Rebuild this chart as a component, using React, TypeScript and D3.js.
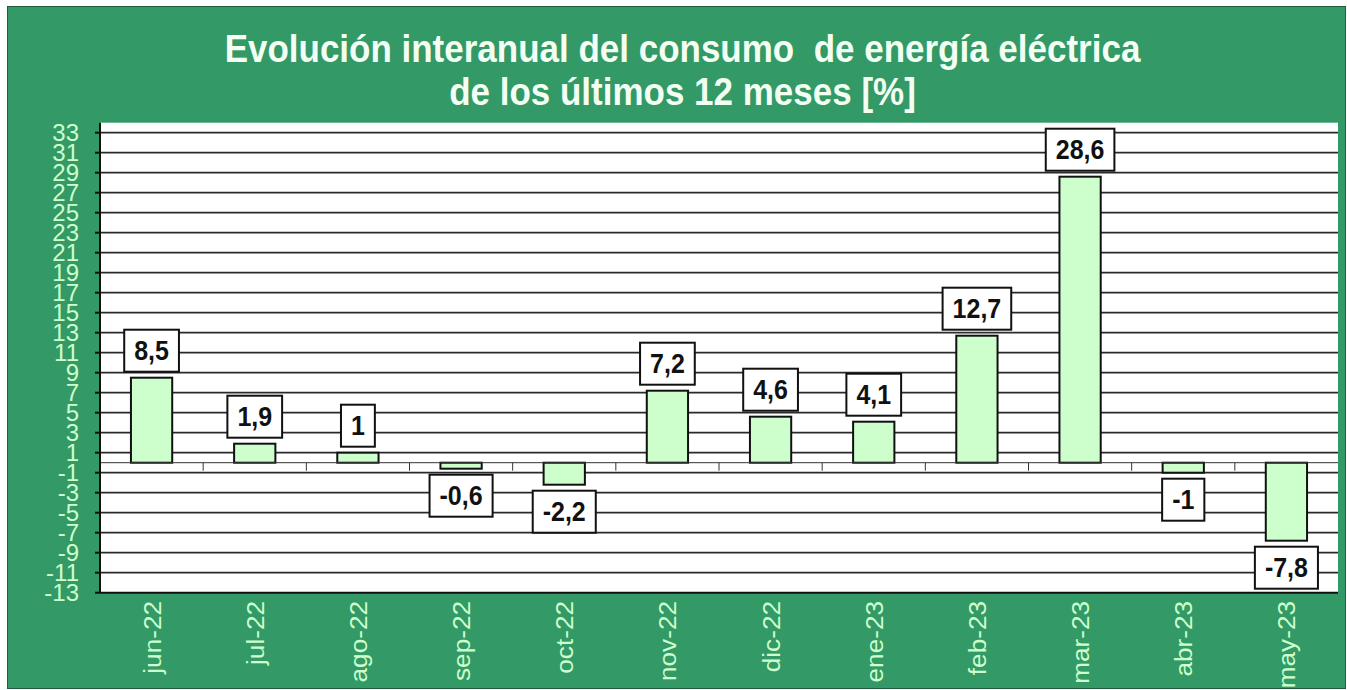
import { useEffect, useRef } from "react";
import * as d3 from "d3";

const categories = [
  "jun-22", "jul-22", "ago-22", "sep-22", "oct-22", "nov-22",
  "dic-22", "ene-23", "feb-23", "mar-23", "abr-23", "may-23",
];
const values = [8.5, 1.9, 1, -0.6, -2.2, 7.2, 4.6, 4.1, 12.7, 28.6, -1, -7.8];
const valueLabels = ["8,5", "1,9", "1", "-0,6", "-2,2", "7,2", "4,6", "4,1", "12,7", "28,6", "-1", "-7,8"];
const yTicks = [33, 31, 29, 27, 25, 23, 21, 19, 17, 15, 13, 11, 9, 7, 5, 3, 1, -1, -3, -5, -7, -9, -11, -13];
const titleLines = [
  "Evolución interanual del consumo  de energía eléctrica",
  "de los últimos 12 meses [%]",
];

const W = 1347,
  H = 690;
const FONT = "'Liberation Sans', Arial, sans-serif";
const GREEN = "#339966";
const LIGHT = "#ccffcc";
const STRETCH = 1.09;

export default function App() {
  const ref = useRef<SVGSVGElement>(null);

  useEffect(() => {
    const svg = d3.select(ref.current!);
    svg.selectAll("*").remove();

    const plot = { left: 100, right: 1338, top: 122.7, bottom: 592.7 };

    const x = d3
      .scaleBand()
      .domain(categories)
      .range([plot.left, plot.right])
      .padding(0);
    const y = d3.scaleLinear().domain([-13, 34]).range([plot.bottom, plot.top]);
    const barW = x.bandwidth() * 0.4;

    // background
    svg
      .append("rect")
      .attr("x", 7.5)
      .attr("y", 6.5)
      .attr("width", W - 9)
      .attr("height", H - 8)
      .attr("fill", GREEN)
      .attr("stroke", "#1d5c3c")
      .attr("stroke-width", 1);

    // title
    const title = svg.append("g");
    titleLines.forEach((t, i) => {
      title
        .append("text")
        .attr("transform", `translate(${W / 2 + 9},${[61.5, 105][i]}) scale(1,${STRETCH})`)
        .attr("text-anchor", "middle")
        .attr("font-family", FONT)
        .attr("font-weight", "bold")
        .attr("font-size", 35)
        .attr("fill", "#f2fff2")
        .style("white-space", "pre")
        .text(t);
    });

    // plot area
    svg
      .append("rect")
      .attr("x", plot.left)
      .attr("y", plot.top)
      .attr("width", plot.right - plot.left)
      .attr("height", plot.bottom - plot.top)
      .attr("fill", "#ffffff");

    // gridlines
    svg
      .append("g")
      .selectAll("line")
      .data(yTicks.filter((d) => d > -13))
      .join("line")
      .attr("x1", plot.left)
      .attr("x2", plot.right)
      .attr("y1", (d) => y(d))
      .attr("y2", (d) => y(d))
      .attr("stroke", "#2a2a2a")
      .attr("stroke-width", 1.8);

    // bars
    svg
      .append("g")
      .selectAll("rect")
      .data(values)
      .join("rect")
      .attr("x", (_, i) => x(categories[i])! + x.bandwidth() / 2 - barW / 2)
      .attr("y", (d) => y(Math.max(0, d)))
      .attr("width", barW)
      .attr("height", (d) => Math.abs(y(d) - y(0)))
      .attr("fill", LIGHT)
      .attr("stroke", "#111")
      .attr("stroke-width", 2);

    // zero line with category ticks
    svg
      .append("line")
      .attr("x1", plot.left)
      .attr("x2", plot.right)
      .attr("y1", y(0))
      .attr("y2", y(0))
      .attr("stroke", "#333")
      .attr("stroke-width", 1);
    svg
      .append("g")
      .selectAll("line")
      .data(categories.slice(1))
      .join("line")
      .attr("x1", (d) => x(d)!)
      .attr("x2", (d) => x(d)!)
      .attr("y1", y(0))
      .attr("y2", y(0) + 8)
      .attr("stroke", "#333")
      .attr("stroke-width", 1);

    // axes lines
    svg
      .append("line")
      .attr("x1", plot.left)
      .attr("x2", plot.left)
      .attr("y1", plot.top)
      .attr("y2", plot.bottom)
      .attr("stroke", "#111")
      .attr("stroke-width", 2);
    svg
      .append("line")
      .attr("x1", plot.left)
      .attr("x2", plot.right)
      .attr("y1", plot.bottom)
      .attr("y2", plot.bottom)
      .attr("stroke", "#111")
      .attr("stroke-width", 2);

    // y ticks + labels
    const yAx = svg.append("g");
    yAx
      .selectAll("line")
      .data(yTicks)
      .join("line")
      .attr("x1", plot.left - 5)
      .attr("x2", plot.left)
      .attr("y1", (d) => y(d))
      .attr("y2", (d) => y(d))
      .attr("stroke", "#111")
      .attr("stroke-width", 2);
    yAx
      .selectAll("text")
      .data(yTicks)
      .join("text")
      .attr("transform", (d) => `translate(79,${y(d) + 8.5})`)
      .attr("text-anchor", "end")
      .attr("font-family", FONT)
      .attr("font-size", 24)
      .attr("fill", LIGHT)
      .text((d) => String(d));

    // x labels
    svg
      .append("g")
      .selectAll("text")
      .data(categories)
      .join("text")
      .attr(
        "transform",
        (d) => `translate(${x(d)! + x.bandwidth() / 2 + 9},601) rotate(-90) scale(${STRETCH},1)`
      )
      .attr("text-anchor", "end")
      .attr("font-family", FONT)
      .attr("font-size", 24)
      .attr("fill", LIGHT)
      .text((d) => d);

    // value label boxes
    const lab = svg
      .append("g")
      .selectAll("g")
      .data(values)
      .join("g");
    lab.each(function (d, i) {
      const g = d3.select(this);
      const cx = x(categories[i])! + x.bandwidth() / 2;
      const boxH = 42;
      const top = d >= 0 ? y(d) - 6 - boxH : y(d) + 6;
      const rect = g.append("rect");
      const txt = g
        .append("text")
        .attr("transform", `translate(${cx},${top + boxH / 2 + 9.5}) scale(1,${STRETCH})`)
        .attr("text-anchor", "middle")
        .attr("font-family", FONT)
        .attr("font-weight", "bold")
        .attr("font-size", 25)
        .attr("fill", "#111")
        .text(valueLabels[i]);
      const tw = (txt.node() as SVGTextElement).getComputedTextLength();
      const bw = tw + 20;
      rect
        .attr("x", cx - bw / 2)
        .attr("y", top)
        .attr("width", bw)
        .attr("height", boxH)
        .attr("fill", "#ffffff")
        .attr("stroke", "#111")
        .attr("stroke-width", 2);
    });
  }, []);

  return (
    <svg
      ref={ref}
      width={W}
      height={H}
      style={{ position: "absolute", left: 0, top: 0, display: "block" }}
    />
  );
}
